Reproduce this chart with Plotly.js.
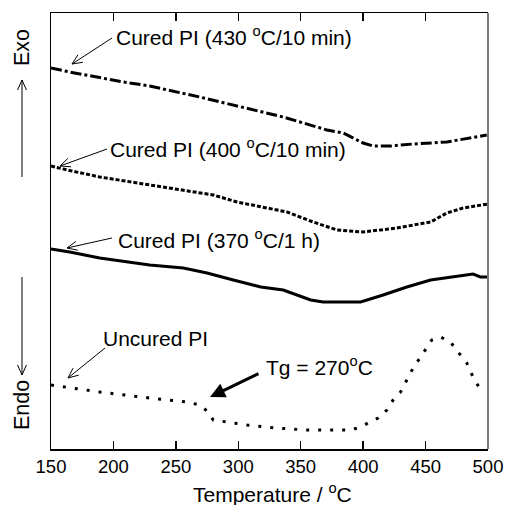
<!DOCTYPE html>
<html>
<head>
<meta charset="utf-8">
<script src="https://cdn.plot.ly/plotly-3.0.1.min.js"></script>
<style>html,body{margin:0;padding:0;background:#fff;}#chart{width:505px;height:505px;}</style>
</head>
<body>
<div id="chart"></div>
<script>
// ---- data (temperature in °C, heat-flow signal in arbitrary units) ----
const temp430 = [150, 165, 208, 229, 269, 312, 336, 371, 384, 400, 408, 422, 440, 467, 494, 499];
const sig430  = [381, 377, 367, 363, 352, 339, 332, 319, 316, 306, 303, 303, 305, 307, 313, 314];

const temp400 = [150, 163, 189, 229, 253, 280, 299, 320, 339, 360, 379, 400, 427, 454, 467, 480, 500];
const sig400  = [283, 279, 272, 264, 259, 254, 247, 242, 237, 227, 219, 217, 221, 227, 236, 241, 245];

const temp370 = [150, 165, 189, 229, 256, 275, 296, 318, 336, 358, 368, 398, 416, 435, 454, 470, 488, 494, 500];
const sig370  = [200, 197, 191, 184, 181, 176, 169, 162, 159, 149, 147, 147, 154, 162, 169, 172, 175, 172, 172];

const tempUncured = [150, 189, 229, 259, 269, 275, 280, 307, 330, 355, 390, 398, 404, 412, 419, 424, 430, 435, 440, 446, 451, 455, 462, 470, 476, 483, 488, 495];
const sigUncured  = [64, 57, 51, 47, 44, 38, 29, 24, 21, 19, 19, 22, 26, 31, 39, 49, 57, 69, 81, 92, 102, 109, 112, 107, 97, 86, 72, 57];

const xTicks = [150, 200, 250, 300, 350, 400, 450, 500];
const xTitle = 'Temperature / <sup>o</sup>C';

// ---- layout helpers (pixel -> paper) ----
const L = 51, R = 488, T = 13, B = 449;
const px = p => (p - L) / (R - L);
const py = p => (B - p) / (B - T);
const FONT = "Liberation Sans, Arial, sans-serif";
const ANN = 21;

function vArrow(tx, ty, hx, hy) {
  const dx = hx - tx, dy = hy - ty, len = Math.hypot(dx, dy);
  const ux = dx / len, uy = dy / len;
  const hl = 11, a = 24 * Math.PI / 180;
  const rot = (x, y, t) => [x * Math.cos(t) - y * Math.sin(t), x * Math.sin(t) + y * Math.cos(t)];
  const [r1x, r1y] = rot(-ux, -uy, a);
  const [r2x, r2y] = rot(-ux, -uy, -a);
  const p1 = [hx + hl * r1x, hy + hl * r1y];
  const p2 = [hx + hl * r2x, hy + hl * r2y];
  const path = `M${px(tx)},${py(ty)} L${px(hx)},${py(hy)} M${px(p1[0])},${py(p1[1])} L${px(hx)},${py(hy)} L${px(p2[0])},${py(p2[1])}`;
  return {type: 'path', xref: 'paper', yref: 'paper', path: path, line: {color: '#000', width: 1}};
}

const traces = [
  {x: temp430, y: sig430, mode: 'lines', line: {color: '#000', width: 3, dash: '11px,3px,3px,3px'}},
  {x: temp400, y: sig400, mode: 'lines', line: {color: '#000', width: 3, dash: '4px,2px'}},
  {x: temp370, y: sig370, mode: 'lines', line: {color: '#000', width: 3}},
  {x: tempUncured, y: sigUncured, mode: 'lines', line: {color: '#000', width: 3, dash: '3px,9px'}}
];

function txt(text, x, y, opts) {
  return Object.assign({text: text, xref: 'paper', yref: 'paper', x: px(x), y: py(y),
    xanchor: 'left', yanchor: 'middle', showarrow: false,
    font: {family: FONT, size: ANN, color: '#000'}}, opts || {});
}

const annotations = [
  txt('Cured PI (430 <sup>o</sup>C/10 min)', 114, 36),
  txt('Cured PI (400 <sup>o</sup>C/10 min)', 108, 148),
  txt('Cured PI (370 <sup>o</sup>C/1 h)', 116, 239),
  txt('Uncured PI', 101, 338),
  txt('Tg = 270<sup>o</sup>C', 264, 366),
  txt('Exo', 22, 48, {xanchor: 'center', textangle: -90, font: {family: FONT, size: 21.5, color: '#000'}}),
  txt('Endo', 22, 405, {xanchor: 'center', textangle: -90, font: {family: FONT, size: 21.5, color: '#000'}}),
  txt(xTitle, 272, 493, {xanchor: 'center'}),
  {text: '', xref: 'paper', yref: 'paper', x: px(210), y: py(397), ax: 50, ay: -24,
   showarrow: true, arrowhead: 2, arrowsize: 1, arrowwidth: 3, arrowcolor: '#000'}
];

const shapes = [
  vArrow(112, 38, 72, 64),
  vArrow(107, 149, 60, 166),
  vArrow(112, 238, 67, 248),
  vArrow(105, 348, 68, 378),
  vArrow(22, 177, 22, 80),
  vArrow(22, 277, 22, 375),
  {type: 'line', xref: 'paper', yref: 'paper', x0: 1, x1: 1, y0: 0, y1: 1, line: {color: '#7a7a7a', width: 2}}
];

const layout = {
  width: 505, height: 505,
  margin: {l: L, r: 505 - R, t: T, b: 505 - B},
  paper_bgcolor: '#fff', plot_bgcolor: '#fff',
  showlegend: false,
  font: {family: FONT, size: 18, color: '#000'},
  xaxis: {
    range: [150, 500], tickvals: xTicks, ticktext: xTicks.map(String),
    ticks: 'inside', ticklen: 8, tickwidth: 1.5, tickcolor: '#000',
    showline: true, linecolor: '#000', linewidth: 1.5, mirror: 'ticks',
    showgrid: false, zeroline: false,
    tickfont: {family: FONT, size: 18.5, color: '#000'}
  },
  yaxis: {
    range: [0, 436], showticklabels: false, ticks: '',
    showline: true, linecolor: '#000', linewidth: 1.5, mirror: false,
    showgrid: false, zeroline: false
  },
  annotations: annotations,
  shapes: shapes
};

Plotly.newPlot('chart', traces, layout, {staticPlot: true, displayModeBar: false});
</script>
</body>
</html>
